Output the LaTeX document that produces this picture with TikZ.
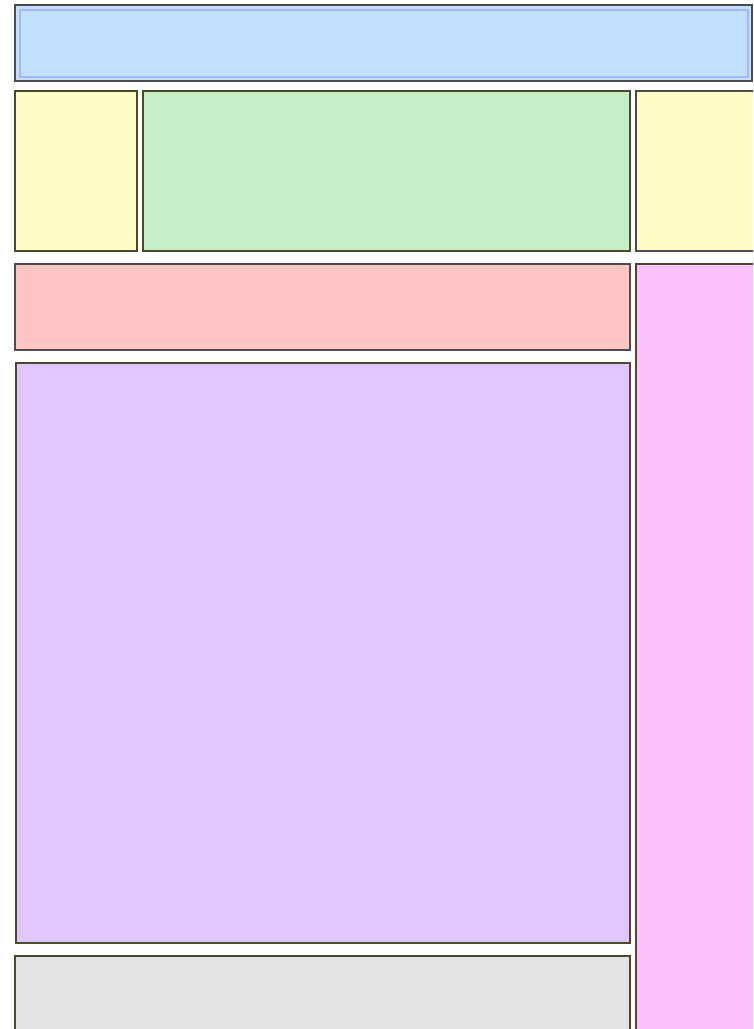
\documentclass[tikz,border=0pt]{standalone}
\begin{document}
\begin{tikzpicture}[x=1pt,y=-1pt,
  panel/.style={draw=black!70,line width=1.2pt},
  olive/.style={draw=black!60!olive,line width=1.2pt}]
\definecolor{cblue}{HTML}{C2E0FF}
\definecolor{cblueb}{HTML}{A8B4FF}
\definecolor{cyellow}{HTML}{FFFCC5}
\definecolor{cgreen}{HTML}{C5EEC5}
\definecolor{cred}{HTML}{FFC4C4}
\definecolor{cpurple}{HTML}{E0C6FC}
\definecolor{cpink}{HTML}{FDC2FD}
\definecolor{cgray}{HTML}{E4E4E4}
\useasboundingbox (0,0) rectangle (753,1029);
\clip (0,0) rectangle (753,1029);
\fill[white] (0,0) rectangle (753,1029);
% header
\draw[panel,fill=cblue] (15,5) rectangle (752,81);
\draw[cblueb,line width=2pt] (20,10) rectangle (748,77);
% second row
\draw[olive,fill=cyellow] (15,91) rectangle (137,251);
\draw[olive,fill=cgreen] (143,91) rectangle (630,251);
\draw[panel,fill=cyellow] (636,91) rectangle (760,251);
% red bar
\draw[panel,fill=cred] (15,264) rectangle (630,350);
% purple
\draw[olive,fill=cpurple] (16,363) rectangle (630,943);
% pink column
\draw[olive,fill=cpink] (636,264) rectangle (760,1040);
% gray
\draw[olive,fill=cgray] (15,956) rectangle (630,1040);
\end{tikzpicture}
\end{document}
